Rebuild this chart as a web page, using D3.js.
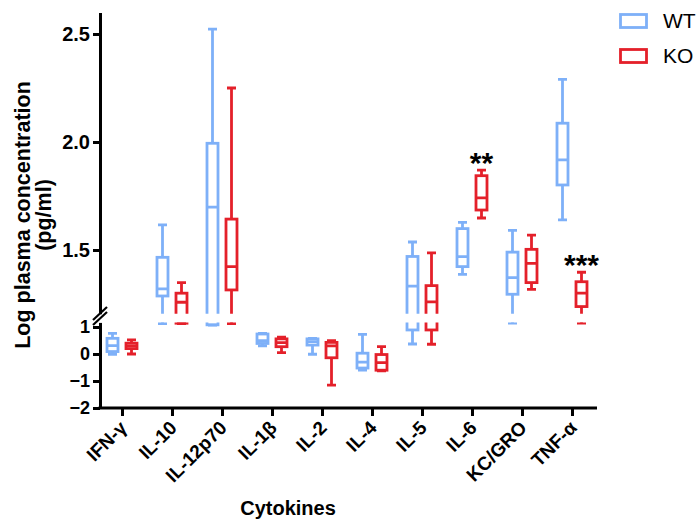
<!DOCTYPE html>
<html>
<head>
<meta charset="utf-8">
<script src="https://cdn.jsdelivr.net/npm/d3@7"></script>
<style>
  body { margin: 0; background: #fff; }
  svg { font-family: "Liberation Sans", Arial, sans-serif; }
  .axis path, .axis line { stroke: #000; stroke-width: 3; }
  .axis text { font-weight: bold; fill: #000; }
</style>
</head>
<body>
<svg width="698" height="522"></svg>
<script>
var categories = ["IFN-γ", "IL-10", "IL-12p70", "IL-1β", "IL-2", "IL-4", "IL-5", "IL-6", "KC/GRO", "TNF-α"];

// WT five-number summaries (log pg/ml)
var wtMin = [-0.01, 1.13, 1.07, 0.30, -0.01, -0.60, 0.37, 1.387, 1.14, 1.639];
var wtQ1  = [0.09, 1.287, 1.08, 0.39, 0.33, -0.52, 0.89, 1.423, 1.295, 1.801];
var wtMed = [0.31, 1.32, 1.698, 0.49, 0.46, -0.30, 1.333, 1.469, 1.372, 1.917];
var wtQ3  = [0.58, 1.466, 1.994, 0.74, 0.56, 0.03, 1.47, 1.599, 1.49, 2.087];
var wtMax = [0.76, 1.616, 2.523, 0.76, 0.58, 0.73, 1.537, 1.628, 1.591, 2.29];

// KO
var koMin = [0.0, 1.13, 1.13, 0.05, -1.15, -0.62, 0.36, 1.648, 1.318, 1.14];
var koQ1  = [0.20, 1.14, 1.315, 0.27, -0.14, -0.60, 0.89, 1.685, 1.349, 1.238];
var koMed = [0.30, 1.258, 1.423, 0.42, 0.30, -0.32, 1.26, 1.741, 1.438, 1.30];
var koQ3  = [0.40, 1.30, 1.643, 0.56, 0.43, -0.02, 1.335, 1.844, 1.503, 1.353];
var koMax = [0.52, 1.349, 2.25, 0.62, 0.49, 0.27, 1.487, 1.870, 1.569, 1.397];

var upperTicks = [1.5, 2.0, 2.5];
var lowerTicks = [-2, -1, 0, 1];
var sigCats = ["IL-6", "TNF-α"];
var sigLabels = ["**", "***"];

var svg = d3.select("svg");

var blue = "#7eb0f8", red = "#e4202a";

var x = d3.scalePoint().domain(categories).range([122, 572]);

// broken y axis: two segments
var yUp = d3.scaleLinear().domain([1.205, 2.6]).range([313.7, 12.4]);
var yLo = d3.scaleLinear().domain([-2, 1.17]).range([408, 322.4]);

var series = [
  {name: "WT", color: blue, off: -9.5, min: wtMin, q1: wtQ1, med: wtMed, q3: wtQ3, max: wtMax},
  {name: "KO", color: red, off: 9.5, min: koMin, q1: koQ1, med: koMed, q3: koQ3, max: koMax}
];

var panels = [
  {id: "clipUp", y: yUp},
  {id: "clipLo", y: yLo}
];

var defs = svg.append("defs");
panels.forEach(function(p) {
  var r = p.y.range();
  defs.append("clipPath").attr("id", p.id)
    .append("rect")
      .attr("x", 100).attr("width", 500)
      .attr("y", r[1]).attr("height", r[0] - r[1]);
});

var boxW = 11, capW = 9, sw = 2.8;

panels.forEach(function(p) {
  var g = svg.append("g").attr("clip-path", "url(#" + p.id + ")");
  var y = p.y;
  series.forEach(function(s) {
    var sg = g.append("g")
        .attr("stroke", s.color)
        .attr("stroke-width", sw)
        .attr("fill", "none");
    categories.forEach(function(c, i) {
      var cx = x(c) + s.off;
      // whiskers
      sg.append("line").attr("x1", cx).attr("x2", cx)
        .attr("y1", y(s.min[i])).attr("y2", y(s.q1[i]));
      sg.append("line").attr("x1", cx).attr("x2", cx)
        .attr("y1", y(s.q3[i])).attr("y2", y(s.max[i]));
      // caps
      sg.append("line").attr("x1", cx - capW / 2).attr("x2", cx + capW / 2)
        .attr("y1", y(s.min[i])).attr("y2", y(s.min[i]));
      sg.append("line").attr("x1", cx - capW / 2).attr("x2", cx + capW / 2)
        .attr("y1", y(s.max[i])).attr("y2", y(s.max[i]));
      // box
      sg.append("rect")
        .attr("x", cx - boxW / 2).attr("width", boxW)
        .attr("y", y(s.q3[i])).attr("height", y(s.q1[i]) - y(s.q3[i]));
      // median
      sg.append("line").attr("x1", cx - boxW / 2).attr("x2", cx + boxW / 2)
        .attr("y1", y(s.med[i])).attr("y2", y(s.med[i]));
    });
  });
});

// axes
svg.append("g")
    .attr("class", "axis")
    .attr("transform", "translate(100,0)")
    .call(d3.axisLeft(yUp).tickValues(upperTicks).tickFormat(d3.format(".1f"))
      .tickSize(7).tickSizeOuter(0).tickPadding(3))
    .selectAll("text").style("font-size", "20px");

svg.append("g")
    .attr("class", "axis")
    .attr("transform", "translate(100,0)")
    .call(d3.axisLeft(yLo).tickValues(lowerTicks).tickFormat(d3.format("d"))
      .tickSize(7).tickSizeOuter(0).tickPadding(3))
    .selectAll("text").style("font-size", "18px");

// axis break marks
svg.append("g").attr("stroke", "#000").attr("stroke-width", 2.2)
  .selectAll("line").data([0, 5]).enter().append("line")
    .attr("x1", 93).attr("x2", 107)
    .attr("y1", function(d) { return 320 + d; })
    .attr("y2", function(d) { return 307 + d; });

var xg = svg.append("g")
    .attr("class", "axis")
    .attr("transform", "translate(0,408)")
    .call(d3.axisBottom(x).tickSize(8).tickSizeOuter(0).tickFormat(""));
xg.select(".domain").attr("d", "M98.5,0H597");

svg.append("g").selectAll("text")
  .data(categories).enter().append("text")
    .attr("transform", function(d) { return "translate(" + (x(d) + 6) + ",429) rotate(-45)"; })
    .attr("text-anchor", "end")
    .style("font-size", "19px")
    .style("font-weight", "bold")
    .text(function(d) { return d; });

// axis titles
svg.append("text")
    .attr("x", 288).attr("y", 515)
    .attr("text-anchor", "middle")
    .style("font-size", "20px").style("font-weight", "bold")
    .text("Cytokines");

var yt = svg.append("text")
    .attr("transform", "translate(30,215) rotate(-90)")
    .attr("text-anchor", "middle")
    .style("font-size", "21.5px").style("font-weight", "bold");
yt.append("tspan").attr("x", 0).attr("y", 0).text("Log plasma concentration");
yt.append("tspan").attr("x", 0).attr("y", 21).text("(pg/ml)");

// significance marks
sigCats.forEach(function(c, i) {
  var k = categories.indexOf(c);
  svg.append("text")
      .attr("x", x(c) + 9.5)
      .attr("y", yUp(koMax[k]) + 3)
      .attr("text-anchor", "middle")
      .style("font-size", "30px").style("font-weight", "bold")
      .text(sigLabels[i]);
});

// legend
var lg = svg.append("g");
series.forEach(function(s, i) {
  lg.append("rect")
      .attr("x", 620.5).attr("y", 14.5 + i * 35)
      .attr("width", 26).attr("height", 13)
      .attr("fill", "none").attr("stroke", s.color).attr("stroke-width", sw);
  lg.append("text")
      .attr("x", 663).attr("y", 28 + i * 35)
      .style("font-size", "21px")
      .text(s.name);
});
</script>
</body>
</html>
